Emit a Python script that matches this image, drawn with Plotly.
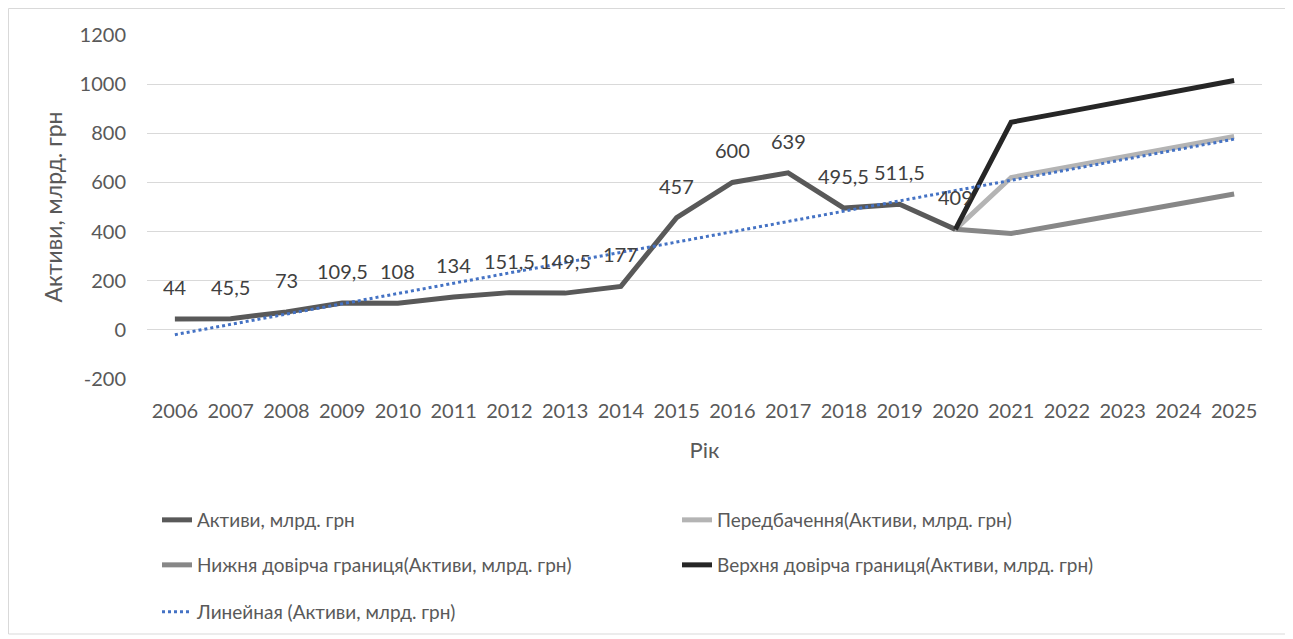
import numpy as np
import plotly.graph_objects as go

years = list(range(2006, 2026))
actual_years = list(range(2006, 2021))
actual = [44, 45.5, 73, 109.5, 108, 134, 151.5, 149.5, 177, 457, 600, 639, 495.5, 511.5, 409]
actual_labels = ["44", "45,5", "73", "109,5", "108", "134", "151,5", "149,5", "177",
                 "457", "600", "639", "495,5", "511,5", "409"]
fc_years = [2020, 2021, 2022, 2023, 2024, 2025]
forecast = [409, 620, 662, 704, 745, 787]
lower = [409, 392, 432, 472, 512, 553]
upper = [409, 845, 887, 930, 972, 1015]
y_ticks = [-200, 0, 200, 400, 600, 800, 1000, 1200]
y_ticktext = ["-200", "0", "200", "400", "600", "800", "1000", "1200"]

# linear trendline (Excel-style, fitted on actual data, extended to 2025)
coef = np.polyfit(np.arange(1, len(actual) + 1), actual, 1)
trend = list(np.polyval(coef, np.arange(1, len(years) + 1)))

FONT = "Lato, Carlito, Calibri, sans-serif"
TXT = "#595959"

fig = go.Figure()
fig.add_trace(go.Scatter(x=actual_years, y=actual, mode="lines", name="Активи, млрд. грн",
                         line=dict(color="#595959", width=5), legend="legend"))
fig.add_trace(go.Scatter(x=fc_years, y=forecast, mode="lines", name="Передбачення(Активи, млрд. грн)",
                         line=dict(color="#b4b4b4", width=5), legend="legend"))
fig.add_trace(go.Scatter(x=fc_years, y=lower, mode="lines", name="Нижня довірча границя(Активи, млрд. грн)",
                         line=dict(color="#878787", width=5), legend="legend2"))
fig.add_trace(go.Scatter(x=fc_years, y=upper, mode="lines", name="Верхня довірча границя(Активи, млрд. грн)",
                         line=dict(color="#262626", width=5), legend="legend2"))
fig.add_trace(go.Scatter(x=years, y=trend, mode="lines", name="Линейная (Активи, млрд. грн)",
                         line=dict(color="#4472c4", width=3, dash="dot"), legend="legend3"))

for xv, yv, t in zip(actual_years, actual, actual_labels):
    fig.add_annotation(x=xv, y=yv, text=t, showarrow=False, xref="x", yref="y",
                       yshift=32, font=dict(family=FONT, size=20, color="#404040"))

OFF = 8  # page body margin
W, H = 1293 - OFF, 639 - OFF
L, R, T, B = 147 - OFF, 1262 - OFF, 35 - OFF, 379 - OFF

def px(xp):
    return (xp - OFF - L) / (R - L)

def py(yp):
    return (B - (yp - OFF)) / (B - T)

def cx(xp):
    return (xp - OFF) / W

def cy(yp):
    return 1 - (yp - OFF) / H

fig.add_shape(type="rect", xref="paper", yref="paper", x0=px(8.5), x1=px(1289), y0=py(634), y1=py(8.5),
              line=dict(color="#d9d9d9", width=1), fillcolor="rgba(0,0,0,0)", layer="below")

leg_common = dict(orientation="h", xanchor="left", yanchor="middle", entrywidth=475,
                  entrywidthmode="pixels", font=dict(family=FONT, size=19, color=TXT),
                  bgcolor="rgba(0,0,0,0)", itemwidth=30, xref="container", yref="container")
fig.update_layout(
    width=W, height=H, autosize=False,
    margin=dict(l=L, r=W - R, t=T, b=H - B, autoexpand=False),
    paper_bgcolor="white", plot_bgcolor="white",
    font=dict(family=FONT, size=20, color=TXT),
    showlegend=True,
    legend=dict(x=cx(157), y=cy(520), **leg_common),
    legend2=dict(x=cx(157), y=cy(565), **leg_common),
    legend3=dict(x=cx(157), y=cy(612), **leg_common),
    xaxis=dict(range=[2005.5, 2025.5], tickmode="array", tickvals=years,
               ticktext=[str(y) for y in years], showgrid=False, zeroline=False,
               showline=False, ticks="", ticklabelstandoff=18,
               tickfont=dict(family=FONT, size=20, color=TXT),
               title=dict(text="Рік", font=dict(family=FONT, size=22, color=TXT), standoff=21)),
    yaxis=dict(range=[-200, 1200], tickmode="array", tickvals=y_ticks, ticktext=y_ticktext,
               showgrid=True, gridcolor="#d9d9d9", gridwidth=1, zeroline=False, showline=False,
               ticks="", ticklabelstandoff=20,
               tickfont=dict(family=FONT, size=20, color=TXT),
               title=dict(text="Активи, млрд. грн", font=dict(family=FONT, size=23, color=TXT),
                          standoff=10)),
)

fig.write_html("out.html")
